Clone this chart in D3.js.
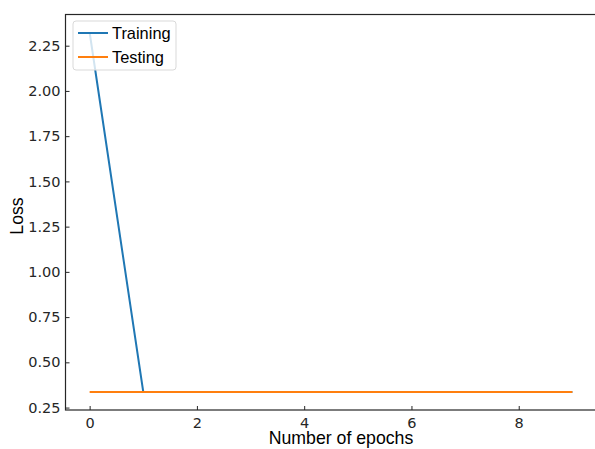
<!DOCTYPE html>
<html>
<head>
<meta charset="utf-8">
<script src="https://d3js.org/d3.v7.min.js"></script>
<style>
  body { margin: 0; background: #fff; }
  text { font-family: "Liberation Sans", Arial, sans-serif; }
</style>
</head>
<body>
<div id="chart"></div>
<script>
// data
const epochs = [0, 1, 2, 3, 4, 5, 6, 7, 8, 9]
const trainLoss = [2.323, 0.336, 0.336, 0.336, 0.336, 0.336, 0.336, 0.336, 0.336, 0.336]
const testLoss = [0.336, 0.336, 0.336, 0.336, 0.336, 0.336, 0.336, 0.336, 0.336, 0.336]
const xTicks = [0, 2, 4, 6, 8]
const yTicks = [0.25, 0.5, 0.75, 1.0, 1.25, 1.5, 1.75, 2.0, 2.25]
const seriesNames = ["Training", "Testing"]
const colors = ["#1f77b4", "#ff7f0e"]

const W = 595, H = 449
const plotLeft = 65.5, plotTop = 14.5, plotRight = 596.5, plotBottom = 410

const svg = d3.select("#chart").append("svg")
  .attr("width", W).attr("height", H)

const x = d3.scaleLinear().domain([-0.45, 9.45]).range([plotLeft, plotRight])
const y = d3.scaleLinear().domain([0.2366, 2.4224]).range([plotBottom, plotTop])

// axes with inward ticks
const xAxis = svg.append("g")
  .attr("transform", `translate(0,${plotBottom})`)
  .call(d3.axisBottom(x).tickValues(xTicks).tickSizeInner(-4).tickSizeOuter(0)
    .tickPadding(7.5).tickFormat(d3.format("d")))
const yAxis = svg.append("g")
  .attr("transform", `translate(${plotLeft},0)`)
  .call(d3.axisLeft(y).tickValues(yTicks).tickSizeInner(-4).tickSizeOuter(0)
    .tickPadding(5).tickFormat(d3.format(".2f")))

for (const g of [xAxis, yAxis]) {
  g.select(".domain").remove()
  g.selectAll("line").attr("stroke", "#262626").attr("stroke-width", 1)
  g.selectAll("text").attr("fill", "#262626")
    .style("font-size", "14.5px").style("font-family", "'DejaVu Sans', sans-serif")
}

// frame
svg.append("rect")
  .attr("x", plotLeft).attr("y", plotTop)
  .attr("width", plotRight - plotLeft).attr("height", plotBottom - plotTop)
  .attr("fill", "none").attr("stroke", "#262626").attr("stroke-width", 1.2)

// lines
const line = d3.line().x((d, i) => x(epochs[i])).y(d => y(d))
const allSeries = [trainLoss, testLoss]
allSeries.forEach((s, i) => {
  svg.append("path")
    .attr("d", line(s))
    .attr("fill", "none")
    .attr("stroke", colors[i])
    .attr("stroke-width", 2)
})

// axis labels
svg.append("text")
  .attr("x", 341).attr("y", 444)
  .attr("text-anchor", "middle")
  .style("font-size", "17.7px").attr("fill", "#000")
  .text("Number of epochs")
svg.append("text")
  .attr("transform", `translate(23,216) rotate(-90)`)
  .attr("text-anchor", "middle")
  .style("font-size", "17.7px").attr("fill", "#000")
  .text("Loss")

// legend
const lg = svg.append("g")
lg.append("rect")
  .attr("x", 73).attr("y", 21).attr("width", 103).attr("height", 49)
  .attr("rx", 3)
  .attr("fill", "#fff").attr("fill-opacity", 0.8)
  .attr("stroke", "#d9d9d9")
seriesNames.forEach((name, i) => {
  const yy = 33 + i * 24
  lg.append("line")
    .attr("x1", 78).attr("x2", 108).attr("y1", yy).attr("y2", yy)
    .attr("stroke", colors[i]).attr("stroke-width", 2)
  lg.append("text")
    .attr("x", 112).attr("y", yy + 6)
    .style("font-size", "16.4px").attr("fill", "#000")
    .text(name)
})
</script>
</body>
</html>
